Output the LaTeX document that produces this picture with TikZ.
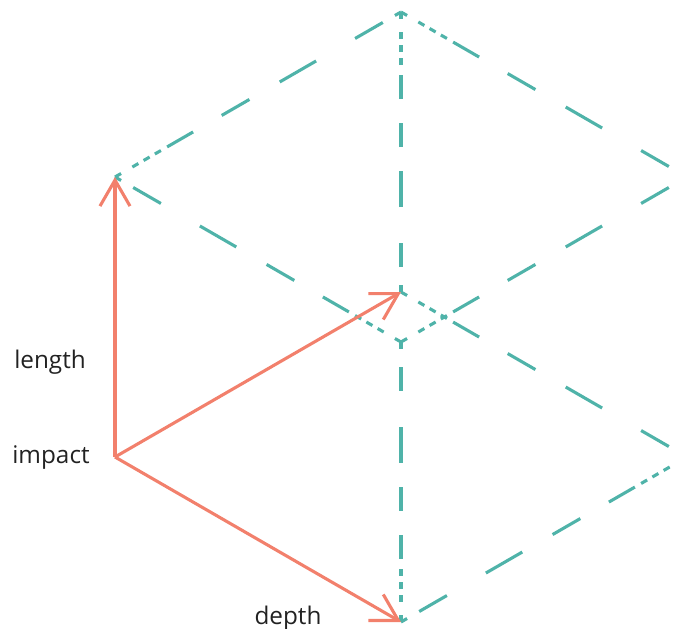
\documentclass[tikz,border=0pt]{standalone}
\usepackage{fontspec}
\setmainfont{Open Sans}
\usetikzlibrary{arrows.meta,calc}
\definecolor{cteal}{HTML}{4FB3A9}
\definecolor{cred}{HTML}{F2806C}
\definecolor{ctext}{HTML}{222222}
\tikzset{
  cubeline/.style={draw=cteal, line width=3.1pt, line cap=butt},
  slantpat/.style={dash pattern=on 32pt off 45pt on 42pt off 35pt on 32pt off 33pt on 30pt off 40pt},
  vertpat/.style={dash pattern=on 24pt off 36pt on 36pt off 24pt on 24pt off 24pt on 24pt off 40pt},
  shortpat/.style={dash pattern=on 7pt off 6pt},
  redarrow/.style={draw=cred, line width=3.1pt, -{Straight Barb[length=26pt,width=30pt]}},
  lbl/.style={font=\fontsize{24.3}{28}\selectfont, text=ctext, inner sep=0pt, anchor=base}
}
% #1 start, #2 end (short dashes near #2), #3 long pattern, #4 start offset
\newcommand\cubeedge[4]{%
  \draw[cubeline,#3] ($(#1)!#4!(#2)$) -- ($(#2)!60pt!(#1)$);
  \draw[cubeline,shortpat] ($(#2)!53pt!(#1)$) -- ($(#2)!20pt!(#1)$);
  \draw[cubeline] (#1) -- ($(#1)!7pt!(#2)$);
  \draw[cubeline] ($(#2)!7pt!(#1)$) -- (#2);
}
\begin{document}
\begin{tikzpicture}[x=1pt,y=-1pt]
\useasboundingbox (0,0) rectangle (683,629);
\coordinate (T) at (401,12);
\coordinate (UL) at (115,177);
\coordinate (UR) at (687,177);
\coordinate (C) at (401,342);
\coordinate (I) at (115,457);
\coordinate (B) at (401,292);
\coordinate (R) at (687,457);
\coordinate (D) at (401,622);
\begin{scope}
  \clip (0,0) rectangle (673,640);
  \cubeedge{T}{UL}{slantpat}{21pt}
  \cubeedge{UR}{T}{slantpat}{21pt}
  \cubeedge{UL}{C}{slantpat}{21pt}
  \cubeedge{UR}{C}{slantpat}{21pt}
  \cubeedge{R}{B}{slantpat}{21pt}
  \cubeedge{D}{R}{slantpat}{21pt}
  \cubeedge{B}{T}{vertpat}{25pt}
  \cubeedge{C}{D}{vertpat}{25pt}
\end{scope}
\draw[redarrow] (I) -- (UL);
\draw[redarrow] (I) -- (B);
\draw[redarrow] (I) -- (D);
\node[lbl] (len) at (50,368) {length};
\node[lbl] (imp) at (51,463) {impact};
\node[lbl] (dep) at (288,624) {depth};
\end{tikzpicture}
\end{document}
